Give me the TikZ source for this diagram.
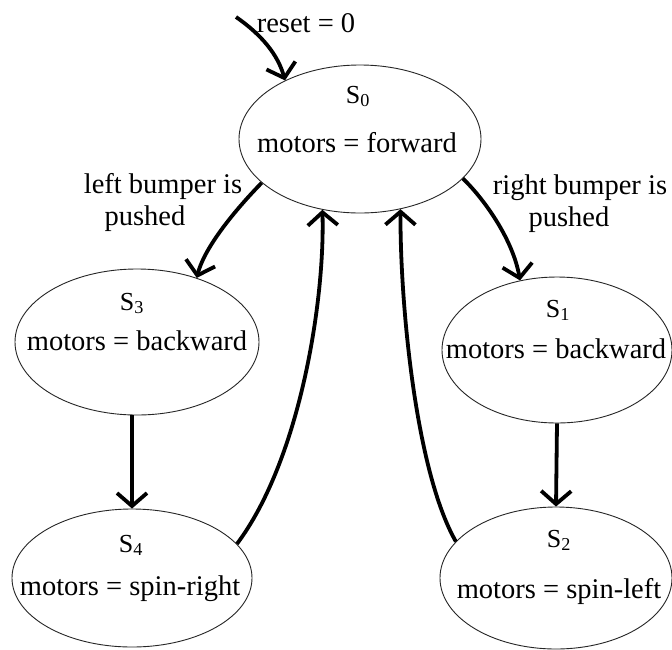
\documentclass[tikz,border=0pt]{standalone}
\usepackage{fontspec}
\setmainfont{Liberation Serif}
\usetikzlibrary{arrows.meta,shapes.geometric}
\begin{document}
\begin{tikzpicture}[x=1pt,y=-1pt,
  state/.style={draw=black!85, line width=0.9pt, ellipse, inner sep=0pt},
  txt/.style={font=\fontsize{28.5}{32}\selectfont, inner sep=0pt, anchor=base},
  sname/.style={font=\fontsize{26}{30}\selectfont, inner sep=0pt, anchor=base},
  lbl/.style={font=\fontsize{28.5}{32}\selectfont, inner sep=0pt, align=center},
  arr/.style={line width=3.8pt, -{Straight Barb[length=13pt,width=30pt]}}]
\useasboundingbox[fill=white] (0,0) rectangle (672,649);

% states
\node[state, minimum width=242pt, minimum height=148pt] (s0) at (360,139) {};
\node[state, minimum width=244pt, minimum height=146pt] (s3) at (137,342) {};
\node[state, minimum width=230pt, minimum height=146pt] (s1) at (557,350) {};
\node[state, minimum width=240pt, minimum height=138pt] (s4) at (132,578) {};
\node[state, minimum width=232pt, minimum height=142pt] (s2) at (556,578) {};

% state texts
\node[sname] (s0n) at (358,103) {S\textsubscript{0}};
\node[txt]   (s0t) at (357,152) {motors = forward};
\node[sname] (s3n) at (132,310) {S\textsubscript{3}};
\node[txt]   (s3t) at (137,350) {motors = backward};
\node[sname] (s1n) at (558,317) {S\textsubscript{1}};
\node[txt]   (s1t) at (556,358) {motors = backward};
\node[sname] (s4n) at (131,552) {S\textsubscript{4}};
\node[txt]   (s4t) at (130,595) {motors = spin-right};
\node[sname] (s2n) at (559,547) {S\textsubscript{2}};
\node[txt]   (s2t) at (559,598) {motors = spin-left};

% labels
\node[txt] (rl) at (306,32) {reset = 0};
\node[lbl] (ll) at (163,202) {left bumper is\\pushed\hspace*{36pt}};
\node[lbl] (rbl) at (580,204) {right bumper is\\pushed\hspace*{22pt}};

% reset arrow
\coordinate (rs) at (236,17);
\draw[arr] (rs) .. controls (262,35) and (278,55) .. (s0.142);

% transitions
\draw[arr] (s0.204) .. controls (240,205) and (205,245) .. (s3.47);
\draw[arr] (s0.339) .. controls (485,200) and (513,240) .. (s1.118);
\draw[arr] (s4.north |- s3.south) -- (s4.north);
\draw[arr] (s1.south) -- (s2.north);
\draw[arr] (s4.18) .. controls (300,460) and (325,300) .. (s0.242);
\draw[arr] (s2.160) .. controls (415,470) and (400,300) .. (s0.300);
\end{tikzpicture}
\end{document}
